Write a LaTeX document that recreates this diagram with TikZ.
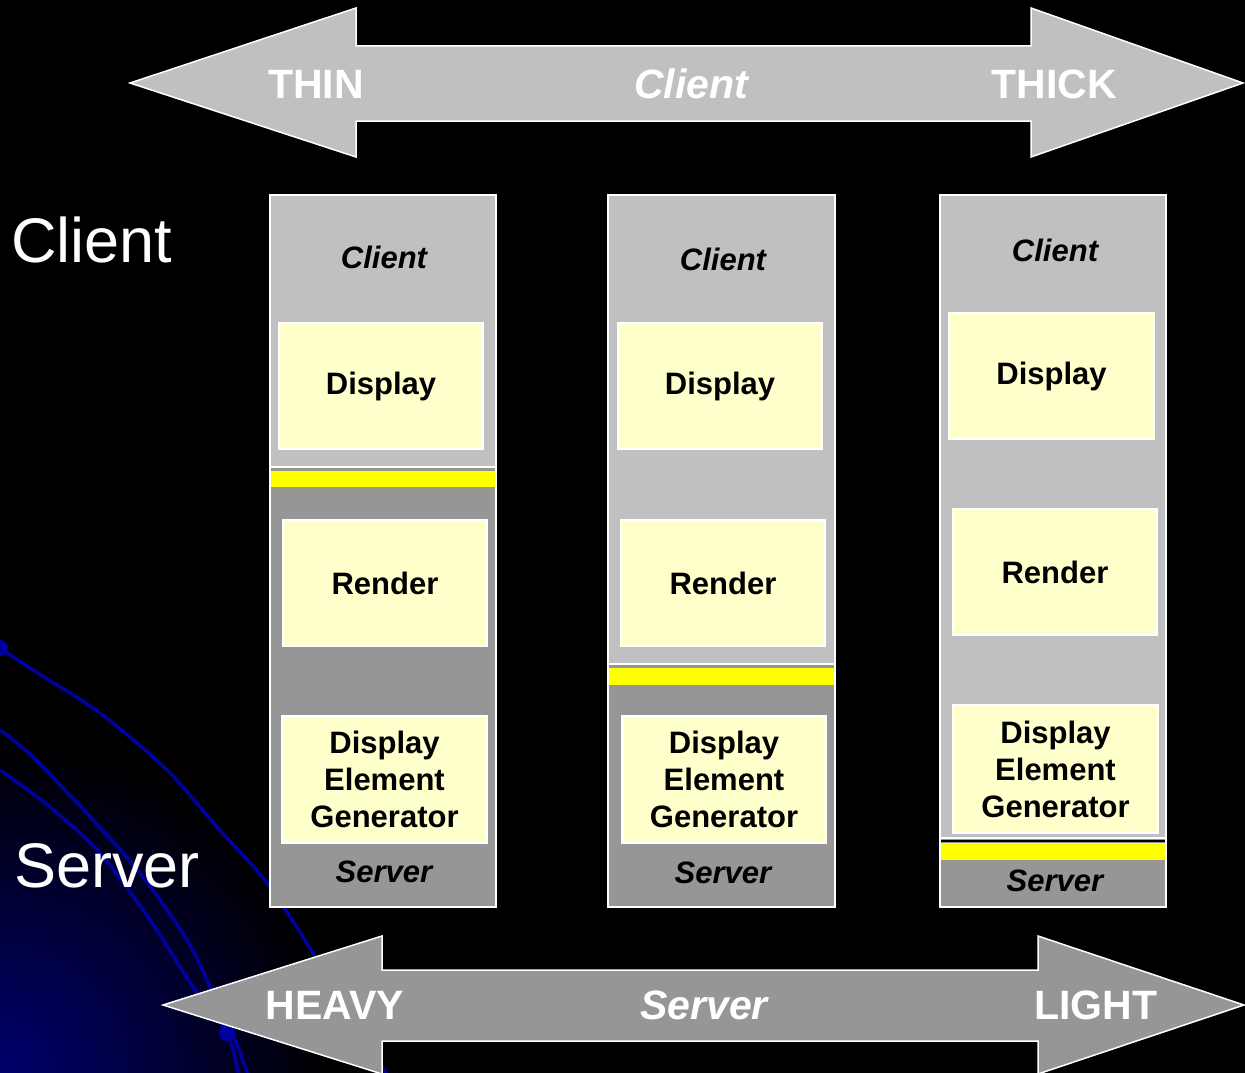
\documentclass[tikz,border=0pt]{standalone}
\usepackage{fontspec}
\setmainfont{Liberation Sans}
\definecolor{lgray}{HTML}{C0C0C0}
\definecolor{dgray}{HTML}{969696}
\definecolor{pale}{HTML}{FFFFCC}
\definecolor{barYellow}{RGB}{255,255,0}
\definecolor{navyline}{RGB}{0,0,160}
\definecolor{navyglow}{RGB}{0,0,110}
\begin{document}
\begin{tikzpicture}[x=1pt,y=-1pt,
  edge/.style={draw=white,line width=1.5pt},
  pbox/.style={edge,fill=pale,align=center,font=\bfseries\fontsize{31}{37}\selectfont,inner sep=0pt},
  coltext/.style={font=\bfseries\itshape\fontsize{31}{37}\selectfont,text=black},
  arrtext/.style={font=\bfseries\fontsize{41}{45}\selectfont,text=white},
  sidetext/.style={font=\fontsize{63}{70}\selectfont,text=white},
  curve/.style={draw=navyline,line width=3.5pt},
  ybarfill/.style={fill=barYellow}
]
% background
\fill[black] (0,0) rectangle (1245,1073);
\useasboundingbox (0,0) rectangle (1245,1073);
\begin{scope}
  \clip (0,0) rectangle (1245,1073);
  \shade[inner color=navyglow,outer color=black] (0,1073) circle (330);
  \draw[curve] plot[smooth] coordinates {(0,648) (33,670) (100,713) (167,770) (217,827) (267,883) (313,953) (360,1030) (390,1080)};
  \draw[curve] plot[smooth] coordinates {(0,730) (33,757) (93,820) (140,873) (187,940) (213,993) (235,1040) (250,1080)};
  \draw[curve] plot[smooth] coordinates {(0,770) (50,807) (100,853) (150,920) (193,987) (227,1033) (240,1080)};
  \fill[navyline] (0,648) circle (8);
  \fill[navyline] (227,1033) circle (8);
\end{scope}

% side labels
\node[sidetext] (lclient) at (92,240) {Client};
\node[sidetext] (lserver) at (107,866) {Server};

% top arrow
\draw[edge,fill=lgray] (130,83) -- (356,8) -- (356,46) -- (1031,46) -- (1031,8) -- (1243,83) -- (1031,157) -- (1031,121) -- (356,121) -- (356,157) -- cycle;
\node[arrtext] (thin) at (316,84) {THIN};
\node[arrtext,font=\bfseries\itshape\fontsize{41}{45}\selectfont] (tclient) at (691,84) {Client};
\node[arrtext] (thick) at (1054,84) {THICK};

% bottom arrow
\draw[edge,fill=dgray] (163,1005) -- (382,936) -- (382,970) -- (1038,970) -- (1038,936) -- (1244,1005) -- (1038,1074) -- (1038,1041) -- (382,1041) -- (382,1074) -- cycle;
\node[arrtext] (heavy) at (335,1005) {HEAVY};
\node[arrtext,font=\bfseries\itshape\fontsize{41}{45}\selectfont] (bserver) at (704,1005) {Server};
\node[arrtext] (light) at (1096,1005) {LIGHT};

% column 1
\draw[edge,fill=dgray] (270,195) rectangle (496,907);
\draw[edge,fill=lgray] (270,195) rectangle (496,467);
\path[ybarfill] (271,471) rectangle (495,487);
\node[coltext] (c1client) at (384,257) {Client};
\node[pbox,minimum width=204pt,minimum height=126pt] (c1disp) at (381,386) {Display};
\node[pbox,minimum width=204pt,minimum height=126pt] (c1rend) at (385,583) {Render};
\node[pbox,minimum width=205pt,minimum height=127pt] (c1deg) at (384.5,779.5) {Display\\Element\\Generator};
\node[coltext] (c1server) at (384,872) {Server};

% column 2
\draw[edge,fill=dgray] (608,195) rectangle (835,907);
\draw[edge,fill=lgray] (608,195) rectangle (835,664);
\path[ybarfill] (609,668) rectangle (834,685);
\node[coltext] (c2client) at (723,259) {Client};
\node[pbox,minimum width=204pt,minimum height=126pt] (c2disp) at (720,386) {Display};
\node[pbox,minimum width=204pt,minimum height=126pt] (c2rend) at (723,583) {Render};
\node[pbox,minimum width=204pt,minimum height=127pt] (c2deg) at (724,779.5) {Display\\Element\\Generator};
\node[coltext] (c2server) at (723,873) {Server};

% column 3
\draw[edge,fill=dgray] (940,195) rectangle (1166,907);
\draw[edge,fill=lgray] (940,195) rectangle (1166,838);
\fill[black] (941,840) rectangle (1165,842);
\path[ybarfill] (941,843) rectangle (1165,860);
\node[coltext] (c3client) at (1055,250) {Client};
\node[pbox,minimum width=205pt,minimum height=126pt] (c3disp) at (1051.5,376) {Display};
\node[pbox,minimum width=204pt,minimum height=126pt] (c3rend) at (1055,572) {Render};
\node[pbox,minimum width=205pt,minimum height=128pt] (c3deg) at (1055.5,769) {Display\\Element\\Generator};
\node[coltext] (c3server) at (1055,881) {Server};
\end{tikzpicture}
\end{document}
